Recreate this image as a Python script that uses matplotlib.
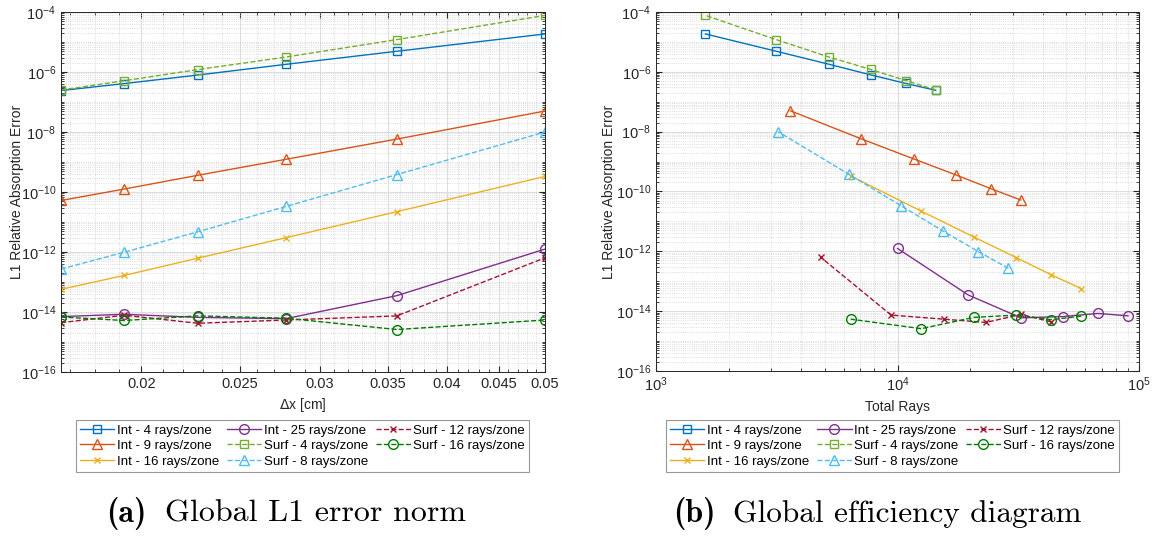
import numpy as np
import matplotlib
matplotlib.use("Agg")
import matplotlib.pyplot as plt
from matplotlib.ticker import FixedLocator, LogLocator, NullFormatter, FixedFormatter, LogFormatterSciNotation

plt.rcParams['font.family'] = ['Liberation Sans', 'DejaVu Sans']
plt.rcParams['font.size'] = 9

# zones per side for each refinement level (finest first)
cells_per_side = np.array([60, 52, 44, 36, 28, 20])

series_names = ['Int - 4 rays/zone', 'Int - 9 rays/zone', 'Int - 16 rays/zone',
                'Int - 25 rays/zone', 'Surf - 4 rays/zone', 'Surf - 8 rays/zone',
                'Surf - 12 rays/zone', 'Surf - 16 rays/zone']
rays_per_zone = [4, 9, 16, 25, 4, 8, 12, 16]

# L1 relative absorption error, same order as cells_per_side
err_int4 = [2.4e-7, 4.1e-7, 7.9e-7, 1.8e-6, 4.9e-6, 1.85e-5]
err_int9 = [5.2e-11, 1.25e-10, 3.6e-10, 1.23e-9, 5.8e-9, 5.0e-8]
err_int16 = [5.7e-14, 1.65e-13, 6.2e-13, 3.0e-12, 2.2e-11, 3.3e-10]
err_int25 = [7.0e-15, 8.4e-15, 6.6e-15, 6.0e-15, 3.5e-14, 1.25e-12]
err_surf4 = [2.5e-7, 5.1e-7, 1.2e-6, 3.15e-6, 1.2e-5, 7.7e-5]
err_surf8 = [2.7e-13, 9.8e-13, 4.7e-12, 3.3e-11, 3.8e-10, 1.0e-8]
err_surf12 = [4.4e-15, 7.8e-15, 4.2e-15, 5.4e-15, 7.4e-15, 6.4e-13]
err_surf16 = [6.8e-15, 5.2e-15, 7.4e-15, 6.2e-15, 2.6e-15, 5.4e-15]
errors = [err_int4, err_int9, err_int16, err_int25,
          err_surf4, err_surf8, err_surf12, err_surf16]

colors = ['#0072BD', '#D95319', '#EDB120', '#7E2F8E',
          '#77AC30', '#4DBEEE', '#A2142F', '#007A00']
markers = ['s', '^', 'x', 'o', 's', '^', 'x', 'o']
msizes = [5.5, 7.5, 5, 7, 5.5, 7.5, 5, 7]
styles = ['-', '-', '-', '-', '--', '--', '--', '--']

dx = 1.0 / cells_per_side

fig = plt.figure(figsize=(11.56, 5.37), dpi=100)
ax1 = fig.add_axes([0.0528, 0.3073, 0.4187, 0.6704])
ax2 = fig.add_axes([0.5675, 0.3091, 0.4178, 0.6686])


def style_axes(ax, label_x):
    ax.set_yscale('log')
    ax.set_ylim(1e-16, 1e-4)
    ax.yaxis.set_major_locator(FixedLocator([10.0 ** k for k in range(-16, -3, 2)]))
    ax.yaxis.set_minor_locator(LogLocator(base=10, subs=np.arange(1, 10), numticks=30))
    ax.yaxis.set_major_formatter(LogFormatterSciNotation())
    ax.yaxis.set_minor_formatter(NullFormatter())
    ax.grid(True, which='major', color='#dedede', linewidth=0.8, linestyle='-')
    ax.grid(True, which='minor', color='#d0d0d0', linewidth=0.6, linestyle=':')
    ax.set_axisbelow(True)
    ax.tick_params(which='both', direction='in', top=True, right=True,
                   colors='#262626', labelcolor='#262626')
    ax.tick_params(which='major', length=4, labelsize=10.5)
    ax.tick_params(which='minor', length=2)
    for sp in ax.spines.values():
        sp.set_color('#262626')
        sp.set_linewidth(0.7)
    ax.set_ylabel('L1 Relative Absorption Error', fontsize=10, color='#262626')
    ax.yaxis.set_label_coords(label_x, 0.5)


# (a) error against zone size
for name, rpz, err, c, m, ms, ls in zip(series_names, rays_per_zone, errors,
                                          colors, markers, msizes, styles):
    ax1.plot(dx, err, color=c, marker=m, markersize=ms, linestyle=ls,
             linewidth=1.0, markerfacecolor='none', markeredgewidth=1.0, label=name)
style_axes(ax1, -0.076)
ax1.set_xscale('log')
ax1.set_xlim(1 / 60, 0.05)
xt = [0.02, 0.025, 0.03, 0.035, 0.04, 0.045, 0.05]
ax1.xaxis.set_major_locator(FixedLocator(xt))
ax1.xaxis.set_major_formatter(FixedFormatter(['0.02', '0.025', '0.03', '0.035', '0.04', '0.045', '0.05']))
ax1.xaxis.set_minor_locator(FixedLocator(np.arange(0.017, 0.0505, 0.001)))
ax1.xaxis.set_minor_formatter(NullFormatter())
ax1.set_xlabel(r'$\Delta$x [cm]', fontsize=10, color='#262626')

# (b) error against total ray count
for name, rpz, err, c, m, ms, ls in zip(series_names, rays_per_zone, errors,
                                          colors, markers, msizes, styles):
    total_rays = rpz * cells_per_side ** 2
    ax2.plot(total_rays, err, color=c, marker=m, markersize=ms, linestyle=ls,
             linewidth=1.0, markerfacecolor='none', markeredgewidth=1.0, label=name)
style_axes(ax2, -0.083)
ax2.set_xscale('log')
ax2.set_xlim(1e3, 1e5)
ax2.xaxis.set_major_locator(FixedLocator([1e3, 1e4, 1e5]))
ax2.xaxis.set_major_formatter(LogFormatterSciNotation())
ax2.xaxis.set_minor_locator(LogLocator(base=10, subs=np.arange(2, 10), numticks=30))
ax2.xaxis.set_minor_formatter(NullFormatter())
ax2.set_xlabel('Total Rays', fontsize=10, color='#262626')

for ax, cx in [(ax1, 0.2617), (ax2, 0.7721)]:
    leg = fig.legend(*ax.get_legend_handles_labels(), loc='center',
                     bbox_to_anchor=(cx, 0.1695), ncol=3, fontsize=9.5,
                     frameon=True, fancybox=False, handlelength=2.6,
                     handletextpad=0.2, columnspacing=0.6, labelspacing=0.25,
                     borderpad=0.3, borderaxespad=0)
    leg.get_frame().set_edgecolor('#7f7f7f')
    leg.get_frame().set_linewidth(0.8)

# subfigure captions
fig.text(0.1090, 0.028, '(a)', fontfamily='cmb10', fontsize=23, ha='center', va='baseline')
fig.text(0.1430, 0.028, 'Global L1 error norm', fontfamily='cmr10', fontsize=23,
         ha='left', va='baseline')
fig.text(0.6010, 0.028, '(b)', fontfamily='cmb10', fontsize=23, ha='center', va='baseline')
fig.text(0.6345, 0.028, 'Global efficiency diagram', fontfamily='cmr10', fontsize=22.5,
         ha='left', va='baseline')

fig.savefig('out.png', dpi=100)
